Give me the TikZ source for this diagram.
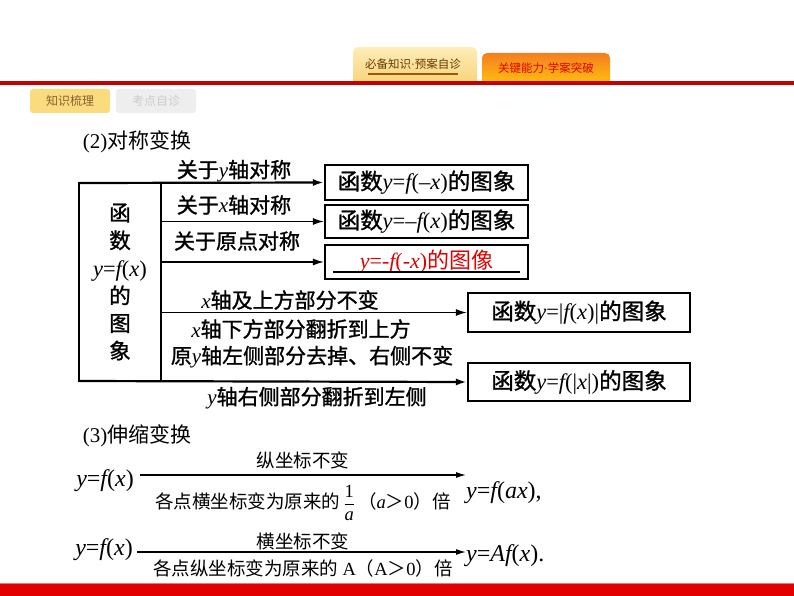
\documentclass[tikz,border=0pt]{standalone}
\usepackage{fontspec}
\setmainfont{Noto Sans CJK SC}
\newfontfamily\cjkb{Noto Sans CJK SC}[FakeBold=1.2]
\newfontfamily\tm{Liberation Serif}
\newcommand\vv[1]{{\tm\itshape #1}}
\newcommand\rr[1]{{\tm #1}}
\usetikzlibrary{arrows.meta}
\definecolor{topred}{HTML}{C40000}
\definecolor{barred}{HTML}{E20000}
\definecolor{tabAtop}{HTML}{FDEDB8}
\definecolor{tabAbot}{HTML}{F9D47A}
\definecolor{tabBtop}{HTML}{F47E20}
\definecolor{tabBbot}{HTML}{FFBE10}
\definecolor{brownt}{HTML}{6A3A00}
\definecolor{subfill}{HTML}{FADB7E}
\definecolor{subgray}{HTML}{EEEEEE}
\definecolor{redtxt}{HTML}{E00000}
\tikzset{
  tabtxt/.style={inner sep=0pt, font=\fontsize{11.5}{11.5}\selectfont},
  subtab/.style={inner sep=0pt, minimum width=80pt, minimum height=24pt, rounded corners=3pt, font=\fontsize{12}{12}\selectfont},
  rbox/.style={draw, line width=2.2pt, inner sep=0pt, font=\cjkb\fontsize{22.5}{22.5}\selectfont},
  lbl/.style={inner sep=0pt, font=\cjkb\fontsize{21}{21}\selectfont},
  head/.style={inner sep=0pt, font=\fontsize{21}{21}\selectfont},
  small/.style={inner sep=0pt, font=\fontsize{18.5}{18.5}\selectfont},
  formula/.style={inner sep=0pt, font=\fontsize{24}{24}\selectfont},
  arr/.style={line width=1.5pt, -{Latex[length=11pt,width=7pt]}},
  thinarr/.style={line width=1.2pt, -{Latex[length=10pt,width=6pt]}},
}
\begin{document}
\begin{tikzpicture}[x=1pt,y=-1pt]
\useasboundingbox (0,0) rectangle (794,596);
\fill[white] (0,0) rectangle (794,596);
% top tabs
\shade[top color=tabAtop, bottom color=tabAbot, rounded corners=5pt] (353,83) -- (353,47) -- (477,47) -- (477,83);
\shade[top color=tabBtop, bottom color=tabBbot, rounded corners=5pt] (482,83) -- (482,53) -- (610,53) -- (610,83);
\node[tabtxt, text=brownt] (tabA) at (413,64) {必备知识\rr{·}预案自诊};
\node[tabtxt, text=redtxt] (tabB) at (546,68) {关键能力\rr{·}学案突破};
\draw[color=brownt!60!orange, line width=1.5pt] (368,74) -- (458,74);
\fill[topred] (0,81) rectangle (794,85);
% sub tabs
\node[subtab, fill=subfill, text=brownt!80] (subA) at (70,101) {知识梳理};
\node[subtab, fill=subgray, text=black!20] (subB) at (156,101) {考点自诊};
% bottom bar
\fill[barred] (0,583) rectangle (794,596);
\draw[barred!55, line width=1pt] (0,583) -- (794,583);

% (2)
\node[head] (h2) at (137,142) {\rr{(2)}对称变换};
% left box
\coordinate (tl) at (79,183);
\coordinate (bl) at (79,381);
\coordinate (dt) at (161,183);
\coordinate (db) at (161,381);
\draw[line width=2.2pt] (dt) -- (tl) -- (bl) -- (db);
\draw[line width=1.5pt] (dt) -- (db);
\node[inner sep=0pt, align=center, font=\cjkb\fontsize{21.5}{27.6}\selectfont] (L) at (120,282)
  {函\\数\\{\fontsize{22.5}{22.5}\selectfont\vv{y}\rr{=}\vv{f}\rr{(}\vv{x}\rr{)}}\\的\\图\\象};
% right boxes
\node[rbox, minimum width=203pt, minimum height=35pt] (b1) at (426.5,182.5)
  {函数\vv{y}\rr{=}\vv{f}\rr{(–}\vv{x}\rr{)}的图象};
\node[rbox, minimum width=203pt, minimum height=33pt] (b2) at (426.5,221.5)
  {函数\vv{y}\rr{=–}\vv{f}\rr{(}\vv{x}\rr{)}的图象};
\node[rbox, minimum width=203pt, minimum height=34pt, text=redtxt, font=\fontsize{22}{22}\selectfont] (b3) at (426.5,262)
  {\vv{y}\rr{=-}\vv{f}\rr{(-}\vv{x}\rr{)}的图像};
\draw[line width=1.2pt] (333,272) -- (520,272);
\node[rbox, minimum width=222pt, minimum height=39pt] (b4) at (579,312.5)
  {函数\vv{y}\rr{=|}\vv{f}\rr{(}\vv{x}\rr{)|}的图象};
\node[rbox, minimum width=222pt, minimum height=38pt] (b5) at (579,382)
  {函数\vv{y}\rr{=}\vv{f}\rr{(|}\vv{x}\rr{|)}的图象};
% connectors
\draw[arr, line width=2.2pt] (tl) -- (b1.west);
\draw[arr] (b2.west -| dt) -- (b2.west);
\draw[arr] (b3.west -| dt) -- (b3.west);
\draw[arr] (b4.west -| dt) -- (b4.west);
\draw[arr, line width=2.2pt] (bl) -- (b5.west);
% labels
\node[lbl] (l1) at (234,171) {关于\vv{y}轴对称};
\node[lbl] (l2) at (234,205) {关于\vv{x}轴对称};
\node[lbl] (l3) at (237,241) {关于原点对称};
\node[lbl] (l4) at (290,300) {\vv{x}轴及上方部分不变};
\node[lbl] (l5) at (301,329) {\vv{x}轴下方部分翻折到上方};
\node[lbl] (l6) at (312,357) {原\vv{y}轴左侧部分去掉、右侧不变};
\node[lbl] (l7) at (317,398) {\vv{y}轴右侧部分翻折到左侧};

% (3)
\node[head] (h3) at (137,436) {\rr{(3)}伸缩变换};
\node[formula] (r1) at (105,481) {\vv{y}\rr{=}\vv{f}\rr{(}\vv{x}\rr{)}};
\node[formula, anchor=west] (t1) at (466,493) {\vv{y}\rr{=}\vv{f}\rr{(}\vv{ax}\rr{),}};
\coordinate (s1) at (140,475);
\coordinate (e1) at (466,475);
\draw[thinarr] (s1) -- (e1);
\node[small] (u1) at (303,460) {纵坐标不变};
\node[small] (d1) at (303,503) {各点横坐标变为原来的\,$\displaystyle\frac{\mbox{\rr{1}}}{\mbox{\vv{a}}}$\,（\vv{a}＞\rr{0}）倍};

\node[formula] (r2) at (104,550) {\vv{y}\rr{=}\vv{f}\rr{(}\vv{x}\rr{)}};
\node[formula, anchor=west] (t2) at (466,556) {\vv{y}\rr{=}\vv{Af}\rr{(}\vv{x}\rr{).}};
\coordinate (s2) at (137,552);
\coordinate (e2) at (466,552);
\draw[thinarr] (s2) -- (e2);
\node[small] (u2) at (303,541) {横坐标不变};
\node[small] (d2) at (303,568) {各点纵坐标变为原来的 \rr{A}（\rr{A}＞\rr{0}）倍};
\end{tikzpicture}
\end{document}
